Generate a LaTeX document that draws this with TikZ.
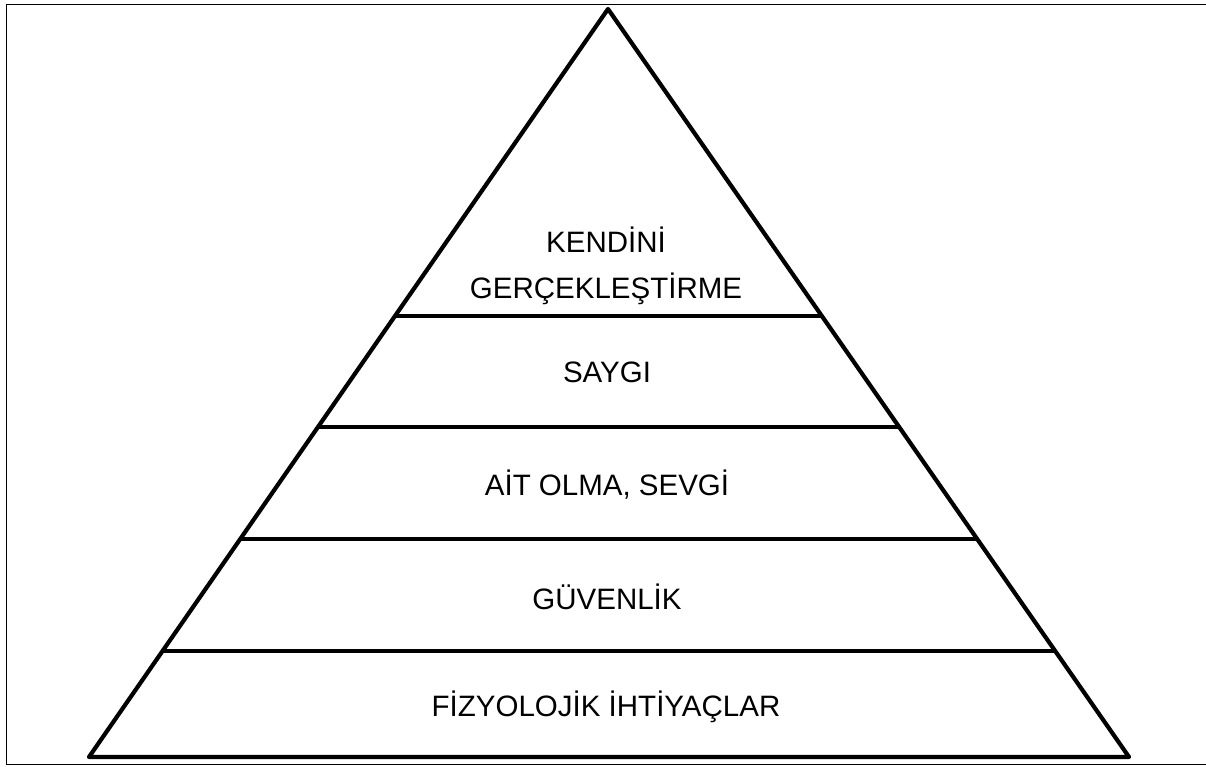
\documentclass[tikz,border=0pt]{standalone}
\usepackage{fontspec}
\setmainfont{Liberation Sans}
\usetikzlibrary{calc}
\tikzset{
  thick line/.style={line width=4.2pt, line join=round, line cap=round},
  frame line/.style={line width=1.5pt},
  level label/.style={font=\fontsize{29.5}{46}\selectfont, align=center, inner sep=0pt, anchor=center}
}
\begin{document}
\begin{tikzpicture}[x=1pt,y=-1pt]
\useasboundingbox (0,0) rectangle (1206,767);
% frame
\draw[frame line] (1215,4.5) -- (6.5,4.5) -- (6.5,764.5) -- (1215,764.5);
% triangle
\coordinate (apex) at (608,9);
\coordinate (bl) at (89,757);
\coordinate (br) at (1129,757);
\draw[thick line] (apex) -- (bl) -- (br) -- cycle;
% level lines
\foreach \y/\n in {316/a,427/b,539/c,651/d}{
  \coordinate (l\n) at ($(apex)!{(\y-9)/748}!(bl)$);
  \coordinate (r\n) at ($(apex)!{(\y-9)/748}!(br)$);
  \draw[thick line, line cap=butt] (l\n) -- (r\n);
}
% labels
\node[level label] (t1) at (606,266) {KENDİNİ\\GERÇEKLEŞTİRME};
\node[level label] (t2) at (607,372) {SAYGI};
\node[level label] (t3) at (607,485) {AİT OLMA, SEVGİ};
\node[level label] (t4) at (607,597) {GÜVENLİK};
\node[level label] (t5) at (606,707) {FİZYOLOJİK İHTİYAÇLAR};
\end{tikzpicture}
\end{document}
